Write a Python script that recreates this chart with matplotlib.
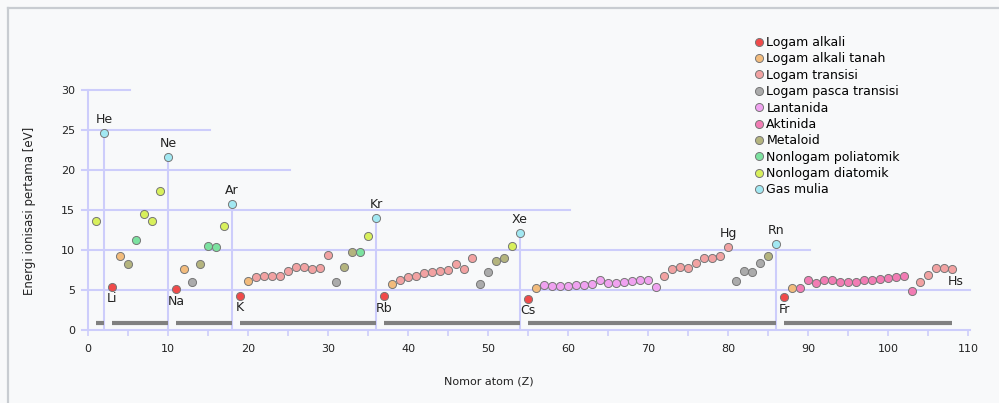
import numpy as np
import matplotlib
matplotlib.use("Agg")
import matplotlib.pyplot as plt
from matplotlib.lines import Line2D

# Data: first ionisation energy (eV) for Z = 1..108
atomic_numbers = np.arange(1, 109)
energies = [
    13.6, 24.6, 5.4, 9.3, 8.3, 11.3, 14.5, 13.6, 17.4, 21.6,
    5.1, 7.6, 6.0, 8.2, 10.5, 10.4, 13.0, 15.8, 4.3, 6.1,
    6.6, 6.8, 6.7, 6.8, 7.4, 7.9, 7.9, 7.6, 7.7, 9.4,
    6.0, 7.9, 9.8, 9.8, 11.8, 14.0, 4.2, 5.7, 6.2, 6.6,
    6.8, 7.1, 7.3, 7.4, 7.5, 8.3, 7.6, 9.0, 5.8, 7.3,
    8.6, 9.0, 10.5, 12.1, 3.9, 5.2, 5.6, 5.5, 5.5, 5.5,
    5.6, 5.6, 5.7, 6.2, 5.9, 5.9, 6.0, 6.1, 6.2, 6.3,
    5.4, 6.8, 7.6, 7.9, 7.8, 8.4, 9.0, 9.0, 9.2, 10.4,
    6.1, 7.4, 7.3, 8.4, 9.3, 10.7, 4.1, 5.3, 5.3, 6.3,
    5.9, 6.2, 6.3, 6.0, 6.0, 6.0, 6.2, 6.3, 6.4, 6.5,
    6.6, 6.7, 4.9, 6.0, 6.9, 7.8, 7.7, 7.6,
]

groups = {
    "Logam alkali": [3, 11, 19, 37, 55, 87],
    "Logam alkali tanah": [4, 12, 20, 38, 56, 88],
    "Logam transisi": list(range(21, 31)) + list(range(39, 49))
                      + list(range(72, 81)) + list(range(104, 109)),
    "Logam pasca transisi": [13, 31, 49, 50, 81, 82, 83, 84],
    "Lantanida": list(range(57, 72)),
    "Aktinida": list(range(89, 104)),
    "Metaloid": [5, 14, 32, 33, 51, 52, 85],
    "Nonlogam poliatomik": [6, 15, 16, 34],
    "Nonlogam diatomik": [1, 7, 8, 9, 17, 35, 53],
    "Gas mulia": [2, 10, 18, 36, 54, 86],
}
colors = ["#f04a4a", "#f2bb7c", "#f2a2a2", "#ababab", "#f0a2f0",
          "#f27cb4", "#b4b47e", "#7ce2a0", "#d8f05c", "#a2e8f2"]

noble_gases = [2, 10, 18, 36, 54, 86]
period_spans = [(1, 2), (3, 10), (11, 18), (19, 36), (37, 54), (55, 86), (87, 108)]

labels_above = {2: "He", 10: "Ne", 18: "Ar", 36: "Kr", 54: "Xe", 80: "Hg", 86: "Rn"}
labels_below = {3: "Li", 11: "Na", 19: "K", 37: "Rb", 55: "Cs", 87: "Fr"}

grid_levels = [5, 10, 15, 20, 25, 30]
grid_ends = [110.25, 90.25, 60.25, 25.25, 15.25, 5.25]

bg = "#f8f9fa"
lav = "#cdcdfb"
ink = "#222222"

fig = plt.figure(figsize=(9.99, 4.03), dpi=100, facecolor=bg)
ax = fig.add_axes([82 / 999, 73 / 403, 888 / 999, 280 / 403])
ax.set_facecolor("none")
ax.set_xlim(-0.75, 110.25)
ax.set_ylim(0, 35)

# frame around the image (top and left only)
fig.add_artist(Line2D([7.5 / 999, 1], [395 / 403, 395 / 403], color="#c8ccd1", lw=1.6))
fig.add_artist(Line2D([7.5 / 999, 7.5 / 999], [0, 395 / 403], color="#c8ccd1", lw=1.6))

# grid lines
for lvl, end in zip(grid_levels, grid_ends):
    ax.plot([-0.75, end], [lvl, lvl], color=lav, lw=1.5, zorder=1, clip_on=False)
ax.plot([0, 0], [0, 30], color=lav, lw=1.5, zorder=1)
E = dict(zip(atomic_numbers, energies))
for z in noble_gases:
    ax.plot([z, z], [0, E[z]], color=lav, lw=1.5, zorder=1)

# period bars
for a, b in period_spans:
    ax.plot([a, b], [0.9, 0.9], color="#808080", lw=3, solid_capstyle="butt", zorder=2)

# points
handles = []
for (name, members), c in zip(groups.items(), colors):
    ys = [E[z] for z in members]
    ax.scatter(members, ys, s=34, color=c, edgecolor="#777777", linewidth=0.7,
               zorder=3, clip_on=False)
    handles.append(Line2D([], [], ls="", marker="o", ms=5.8, mfc=c, mec="#777777",
                          mew=0.7, label=name))

for z, t in labels_above.items():
    ax.annotate(t, (z, E[z]), xytext=(0, 5), textcoords="offset points",
                ha="center", va="bottom", fontsize=9, color=ink)
for z, t in labels_below.items():
    ax.annotate(t, (z, E[z]), xytext=(0, -4), textcoords="offset points",
                ha="center", va="top", fontsize=9, color=ink)
ax.annotate("Hs", (108, E[108]), xytext=(3, -4), textcoords="offset points",
            ha="center", va="top", fontsize=9, color=ink)

# axes styling
for s in ["top", "right", "left"]:
    ax.spines[s].set_visible(False)
ax.spines["bottom"].set_color(lav)
ax.spines["bottom"].set_linewidth(1.5)
ax.set_xticks(range(0, 111, 10))
ax.set_xticks(range(5, 110, 10), minor=True)
ax.tick_params(axis="x", which="both", direction="out", length=4, width=1.2,
               color=lav, labelsize=8, labelcolor=ink, pad=6)
ax.set_yticks(range(0, 31, 5))
ax.tick_params(axis="y", length=0, labelsize=8, labelcolor=ink, pad=5)

ax.set_xlabel("Nomor atom (Z)", fontsize=8, color=ink)
ax.xaxis.set_label_coords((489 - 82) / 888, -0.165)
ax.set_ylabel("Energi ionisasi pertama [eV]", fontsize=8.5, color=ink)
ax.yaxis.set_label_coords(-0.052, 0.425)

fig.legend(handles=handles, loc="upper left", bbox_to_anchor=(755 / 999, 1 - 36 / 403),
           frameon=False, fontsize=9, handlelength=0.6, handletextpad=0.3,
           labelspacing=0.27, borderpad=0, borderaxespad=0)

fig.savefig("out.png", dpi=100, facecolor=bg)
